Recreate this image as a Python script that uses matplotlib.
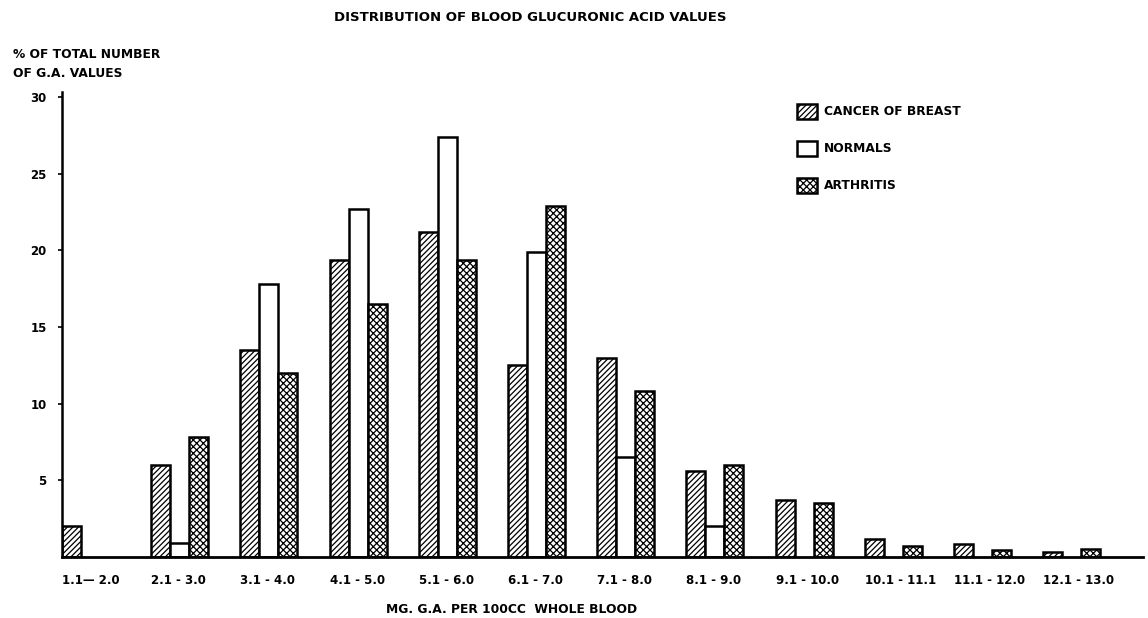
import matplotlib
matplotlib.use("Agg")
import matplotlib.pyplot as plt
from matplotlib.patches import Patch
import numpy as np

categories = ["1.1\u2014 2.0", "2.1 - 3.0", "3.1 - 4.0", "4.1 - 5.0", "5.1 - 6.0",
              "6.1 - 7.0", "7.1 - 8.0", "8.1 - 9.0", "9.1 - 10.0", "10.1 - 11.1",
              "11.1 - 12.0", "12.1 - 13.0"]
cancer = [2.0, 6.0, 13.5, 19.4, 21.2, 12.5, 13.0, 5.6, 3.7, 1.2, 0.85, 0.3]
normals = [0.0, 0.9, 17.8, 22.7, 27.4, 19.9, 6.5, 2.0, 0.0, 0.0, 0.0, 0.0]
arthritis = [0.0, 7.8, 12.0, 16.5, 19.4, 22.9, 10.8, 6.0, 3.55, 0.75, 0.45, 0.5]
yticks = [5, 10, 15, 20, 25, 30]
series_names = ["CANCER OF BREAST", "NORMALS", "ARTHRITIS"]

plt.rcParams['hatch.linewidth'] = 0.9
fig = plt.figure(figsize=(11.48, 6.18), dpi=100)
ax = fig.add_axes([0.054, 0.0987, 0.9417, 0.7518])

x = np.arange(len(categories))
w = 0.213
styles = [dict(hatch='//////'), dict(hatch=None), dict(hatch='xxxxx')]
handles = []
for k, (vals, st, name) in enumerate(zip((cancer, normals, arthritis), styles, series_names)):
    bars = ax.bar(x + (k - 1) * w, vals, w, facecolor='white', edgecolor='black',
                  linewidth=1.8, **st)
    for r, v in zip(bars, vals):
        if v == 0:
            r.set_visible(False)
    handles.append(Patch(facecolor='white', edgecolor='black', linewidth=1.8, label=name, **st))

ax.set_xlim(-0.32, 11.80)
ax.set_ylim(0, 30.3)
for s in ['top', 'right']:
    ax.spines[s].set_visible(False)
ax.spines['left'].set_linewidth(1.8)
ax.spines['bottom'].set_linewidth(2.0)

ax.set_yticks(yticks)
ax.set_yticklabels([str(v) for v in yticks], fontsize=8.5, fontweight='bold')
ax.tick_params(axis='y', length=3, width=1.2, pad=8)
ax.set_xticks(x - 1.5 * w)
ax.set_xticklabels(categories, fontsize=8.5, fontweight='bold', ha='left')
ax.tick_params(axis='x', length=0, pad=12)

fig.text(0.462, 0.972, "DISTRIBUTION OF BLOOD GLUCURONIC ACID VALUES", ha='center', va='center',
         fontsize=9.5, fontweight='bold')
fig.text(0.011, 0.896, "% OF TOTAL NUMBER\nOF G.A. VALUES", ha='left', va='center',
         fontsize=8.8, fontweight='bold', linespacing=1.6)
fig.text(0.446, 0.013, "MG. G.A. PER 100CC  WHOLE BLOOD", ha='center', va='center',
         fontsize=8.8, fontweight='bold')

ax.legend(handles=handles, loc='upper left', bbox_to_anchor=(0.68, 0.975), frameon=False,
          borderpad=0, borderaxespad=0, handlelength=1.6, handleheight=1.5, labelspacing=1.8,
          handletextpad=0.6, prop={'size': 8.8, 'weight': 'bold'})

fig.savefig("out.png", dpi=100)
